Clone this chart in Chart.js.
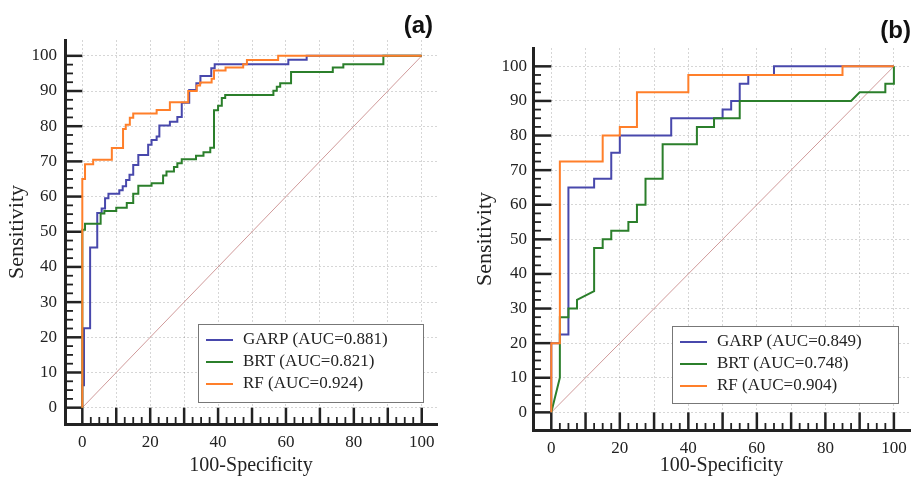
<!DOCTYPE html>
<html>
<head>
<meta charset="utf-8">
<script src="https://cdn.jsdelivr.net/npm/chart.js@4.4.0/dist/chart.umd.min.js"></script>
<style>
  body { margin: 0; background: #fff; }
  .panel { position: absolute; top: 0; height: 478px; }
  #wrap-a { left: 0; width: 450px; }
  #wrap-b { left: 460px; width: 456px; }
</style>
</head>
<body>
<div class="panel" id="wrap-a"><canvas id="chart-a"></canvas></div>
<div class="panel" id="wrap-b"><canvas id="chart-b"></canvas></div>
<script>
// ROC curves, [100-Specificity, Sensitivity] corners
const garpA = [[0,0],[0,6.4],[0.5,6.4],[0.5,22.6],[2.3,22.6],[2.3,45.5],[4.4,45.5],[4.4,55.3],[5.7,55.3],[5.7,56.6],
  [6.7,56.6],[6.7,59.5],[7.7,59.5],[7.7,60.8],[10.9,60.8],[10.9,61.8],[11.9,61.8],[11.9,62.9],[12.9,62.9],[12.9,64.7],
  [13.9,64.7],[13.9,66.2],[15,66.2],[15,69],[16.5,69],[16.5,71.8],[19.4,71.8],[19.4,74.7],[20.4,74.7],[20.4,76.1],
  [21.9,76.1],[21.9,77.1],[22.7,77.1],[22.7,80.2],[25.8,80.2],[25.8,81.3],[28,81.3],[28,82.6],[29.3,82.6],[29.3,86.7],
  [31.5,86.7],[31.5,90.3],[33.6,90.3],[33.6,92.2],[34.8,92.2],[34.8,94.3],[38,94.3],[38,96.5],[39,96.5],[39,97.6],
  [60.7,97.6],[60.7,98.9],[66.1,98.9],[66.1,100],[100,100]];
const brtA = [[0,0],[0,50.6],[0.8,50.6],[0.8,52.3],[5.4,52.3],[5.4,55.2],[6.5,55.2],[6.5,55.9],[10,55.9],[10,56.8],
  [13.1,56.8],[13.1,58.2],[15,58.2],[15,60.8],[16.5,60.8],[16.5,63.1],[20.4,63.1],[20.4,63.8],[23.8,63.8],[23.8,66],
  [24.8,66],[24.8,67.1],[27,67.1],[27,68.4],[28,68.4],[28,69.5],[29.3,69.5],[29.3,70.6],[33.5,70.6],[33.5,71.6],
  [35.7,71.6],[35.7,72.6],[37.7,72.6],[37.7,73.9],[38.8,73.9],[38.8,84.5],[40,84.5],[40,85.8],[41.1,85.8],[41.1,88],
  [42.1,88],[42.1,88.9],[56.3,88.9],[56.3,90.1],[57.3,90.1],[57.3,91.2],[58.3,91.2],[58.3,92.2],[61.5,92.2],[61.5,95.4],
  [73.8,95.4],[73.8,96.7],[76.9,96.7],[76.9,97.6],[88.7,97.6],[88.7,100],[100,100]];
const rfA = [[0,0],[0,65],[0.8,65],[0.8,69.2],[3.2,69.2],[3.2,70.5],[8.7,70.5],[8.7,73.8],[12,73.8],[12,79.2],
  [12.8,79.2],[12.8,80.4],[14,80.4],[14,82.4],[15,82.4],[15,83.6],[21.9,83.6],[21.9,84.6],[25.8,84.6],[25.8,86.8],
  [31.2,86.8],[31.2,90],[33.7,90],[33.7,91.6],[34.7,91.6],[34.7,92.4],[38.1,92.4],[38.1,93.5],[38.8,93.5],[38.8,95.8],
  [42.2,95.8],[42.2,96.7],[47.4,96.7],[47.4,97.6],[48.5,97.6],[48.5,98.8],[57.7,98.8],[57.7,100],[100,100]];

const garpB = [[0,0],[0,20],[2.5,20],[2.5,22.5],[5,22.5],[5,65],[12.5,65],[12.5,67.5],[17.5,67.5],[17.5,75],
  [20,75],[20,80],[35,80],[35,85],[50,85],[50,87.5],[52.5,87.5],[52.5,90],[55,90],[55,95],[57.5,95],[57.5,97.5],
  [65,97.5],[65,100],[100,100]];
const brtB = [[0,0],[2.5,10],[2.5,27.5],[5,27.5],[5,30],[7.5,30],[7.5,32.5],[12.5,35],[12.5,47.5],[15,47.5],
  [15,50],[17.5,50],[17.5,52.5],[22.5,52.5],[22.5,55],[25,55],[25,60],[27.5,60],[27.5,67.5],[32.5,67.5],[32.5,77.5],
  [42.5,77.5],[42.5,82.5],[47.5,82.5],[47.5,85],[55,85],[55,90],[87.5,90],[90,92.5],[97.5,92.5],[97.5,95],[100,95],
  [100,100]];
const rfB = [[0,0],[0,20],[2.5,20],[2.5,72.5],[15,72.5],[15,80],[20,80],[20,82.5],[25,82.5],[25,92.5],[40,92.5],
  [40,97.5],[85,97.5],[85,100],[100,100]];

const refLine = [[0,0],[100,100]];
const labelsA = ['GARP (AUC=0.881)', 'BRT (AUC=0.821)', 'RF (AUC=0.924)'];
const labelsB = ['GARP (AUC=0.849)', 'BRT (AUC=0.748)', 'RF (AUC=0.904)'];
const xTicks = [0, 10, 20, 30, 40, 50, 60, 70, 80, 90, 100];
const yTicks = [0, 10, 20, 30, 40, 50, 60, 70, 80, 90, 100];

const colors = ['#4848ac', '#2b7f2b', '#ff7f2a'];
const serif = "'Liberation Serif', 'Times New Roman', serif";

Chart.defaults.font.family = serif;
Chart.defaults.color = '#222';

// major/minor tick marks, legend box and panel letter
const rocDecor = {
  id: 'rocDecor',
  beforeDatasetsDraw(chart, args, opts) {
    const ctx = chart.ctx;
    const xs = chart.scales.x, ys = chart.scales.y;
    const ca = chart.chartArea;
    const x0 = xs.getPixelForValue(0), y0 = ys.getPixelForValue(0);
    ctx.save();
    ctx.strokeStyle = '#222';
    for (let v = 0; v <= 100; v += 2.5) {
      const major = v % 10 === 0;
      ctx.lineWidth = major ? 2.5 : 1.8;
      const py = ys.getPixelForValue(v);
      ctx.beginPath();
      ctx.moveTo(ca.left, py);
      ctx.lineTo(major ? x0 : ca.left + 8, py);
      ctx.stroke();
      const px = xs.getPixelForValue(v);
      ctx.beginPath();
      ctx.moveTo(px, ca.bottom);
      ctx.lineTo(px, major ? y0 : ca.bottom - 7);
      ctx.stroke();
    }
    ctx.restore();
  },
  afterDraw(chart, args, opts) {
    const ctx = chart.ctx;
    const lg = opts.legend;
    ctx.save();
    ctx.fillStyle = '#fff';
    ctx.fillRect(lg.x, lg.y, lg.w, lg.h);
    ctx.strokeStyle = '#777';
    ctx.lineWidth = 1;
    ctx.strokeRect(lg.x + 0.5, lg.y + 0.5, lg.w, lg.h);
    ctx.font = "17px 'Liberation Serif'";
    ctx.textBaseline = 'middle';
    for (let i = 0; i < 3; i++) {
      const ds = chart.data.datasets[i];
      const ry = lg.y + 16 + i * 22;
      ctx.strokeStyle = ds.borderColor;
      ctx.lineWidth = 2;
      ctx.beginPath();
      ctx.moveTo(lg.x + 8, ry);
      ctx.lineTo(lg.x + 35, ry);
      ctx.stroke();
      ctx.fillStyle = '#222';
      ctx.fillText(ds.label, lg.x + 45, ry);
    }
    ctx.font = "bold 24px 'Liberation Sans'";
    ctx.textAlign = 'right';
    ctx.textBaseline = 'alphabetic';
    ctx.fillStyle = '#111';
    ctx.fillText(opts.letter, opts.letterX, opts.letterY);
    ctx.restore();
  }
};

function makeChart(canvas, series, labels, p) {
  const toXY = arr => arr.map(d => ({ x: d[0], y: d[1] }));
  return new Chart(canvas.getContext('2d'), {
    type: 'scatter',
    data: {
      datasets: [
        ...series.map((s, i) => ({
          label: labels[i],
          data: toXY(s),
          showLine: true,
          borderColor: colors[i],
          backgroundColor: colors[i],
          borderWidth: 2,
          pointRadius: 0,
          order: 2 - i
        })),
        {
          label: 'ref',
          data: toXY(refLine),
          showLine: true,
          borderColor: '#d09a9a',
          borderWidth: 1,
          pointRadius: 0,
          order: 5
        }
      ]
    },
    options: {
      responsive: true,
      maintainAspectRatio: false,
      animation: false,
      layout: { padding: { top: p.top, right: p.right, left: 0, bottom: 0 } },
      plugins: {
        legend: { display: false },
        tooltip: { enabled: false },
        rocDecor: { legend: p.legend, letter: p.letter, letterX: p.letterX, letterY: p.letterY }
      },
      scales: {
        x: {
          type: 'linear',
          min: p.xMin, max: p.xMax,
          afterBuildTicks: s => { s.ticks = xTicks.map(v => ({ value: v })); },
          afterFit: s => { s.height = p.xHeight; },
          ticks: {
            padding: 8,
            maxRotation: 0,
            color: '#222',
            font: { family: serif, size: 17 },
            callback: v => (v % 20 === 0 ? String(v) : '')
          },
          grid: { color: 'rgba(0,0,0,0.16)', drawTicks: false },
          border: { color: '#222', width: 3, dash: [2, 2] },
          title: { display: true, text: '100-Specificity', color: '#222', font: { family: serif, size: 20 }, padding: { top: 0, bottom: 0 } }
        },
        y: {
          type: 'linear',
          min: p.yMin, max: p.yMax,
          afterBuildTicks: s => { s.ticks = yTicks.map(v => ({ value: v })); },
          afterFit: s => { s.width = p.yWidth; },
          ticks: { padding: p.yPad, color: '#222', font: { family: serif, size: 17 } },
          grid: { color: 'rgba(0,0,0,0.16)', drawTicks: false },
          border: { color: '#222', width: 3, dash: [2, 2] },
          title: { display: true, text: 'Sensitivity', color: '#222', font: { family: serif, size: 22 }, padding: { top: p.titlePad, bottom: 0 } }
        }
      }
    },
    plugins: [rocDecor]
  });
}

makeChart(document.querySelector('#chart-a'), [garpA, brtA, rfA], labelsA, {
  xMin: -5.1, xMax: 104.5, yMin: -4.64, yMax: 104.5,
  top: 40, right: 13, yWidth: 65, xHeight: 54, yPad: 8, titlePad: 4,
  legend: { x: 198, y: 324, w: 225, h: 78 },
  letter: '(a)', letterX: 433, letterY: 33
});

makeChart(document.querySelector('#chart-b'), [garpB, brtB, rfB], labelsB, {
  xMin: -5.34, xMax: 104.7, yMin: -5.1, yMax: 105.3,
  top: 48, right: 6, yWidth: 73, xHeight: 48, yPad: 6, titlePad: 12,
  legend: { x: 212, y: 326, w: 226, h: 77 },
  letter: '(b)', letterX: 451, letterY: 38
});
</script>
</body>
</html>
